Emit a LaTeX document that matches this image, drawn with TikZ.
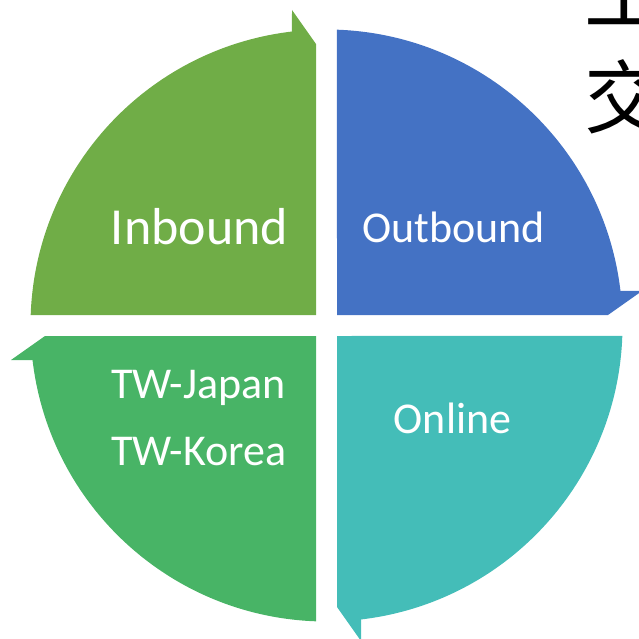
\documentclass[tikz,border=0pt]{standalone}
\usepackage{fontspec}
\setmainfont{Carlito}
\newfontfamily\cjkfont{Noto Sans CJK TC}
\usepackage{tikz}

\definecolor{qgreen}{HTML}{70AD47}
\definecolor{qblue}{HTML}{4472C4}
\definecolor{qteal}{HTML}{44BDB8}
\definecolor{qlime}{HTML}{48B466}

\tikzset{
    label44/.style={white, inner sep=0pt, font=\fontsize{44}{52}\selectfont},
    cjk/.style={black, inner sep=0pt, anchor=base west, font=\cjkfont\fontsize{80}{96}\selectfont}
}

\begin{document}
\begin{tikzpicture}[x=1pt, y=1pt]
    \useasboundingbox (0, 0) rectangle (639, 638);
    \clip (0, 0) rectangle (639, 638);

    % four arrow quarters, each a turn of the first
    \foreach \ang/\col in {0/qgreen, -90/qblue, 180/qteal, 90/qlime} {
        \fill[\col, shift={(326.5, 312.5)}, rotate=\ang]
            (-10.5, 10.5) -- (177.97:296) arc (177.97:96.7:296)
            -- (-34.5, 315.5) -- (-10.5, 281.5) -- cycle;
    }

    \node[label44, anchor=base, font=\fontsize{52}{60}\selectfont] at (199.5, 393) (inbound) {Inbound};
    \node[label44, anchor=base] at (453.5, 395) (outbound) {Outbound};
    \node[label44, anchor=base west] at (111, 240) (twjapan) {TW-Japan};
    \node[label44, anchor=base west] at (111, 173) (twkorea) {TW-Korea};
    \node[label44, anchor=base] at (452.5, 205) (online) {Online};

    \node[cjk] at (584, 613) (cjkone) {工};
    \node[cjk] at (584, 510) (cjktwo) {交};
\end{tikzpicture}
\end{document}
